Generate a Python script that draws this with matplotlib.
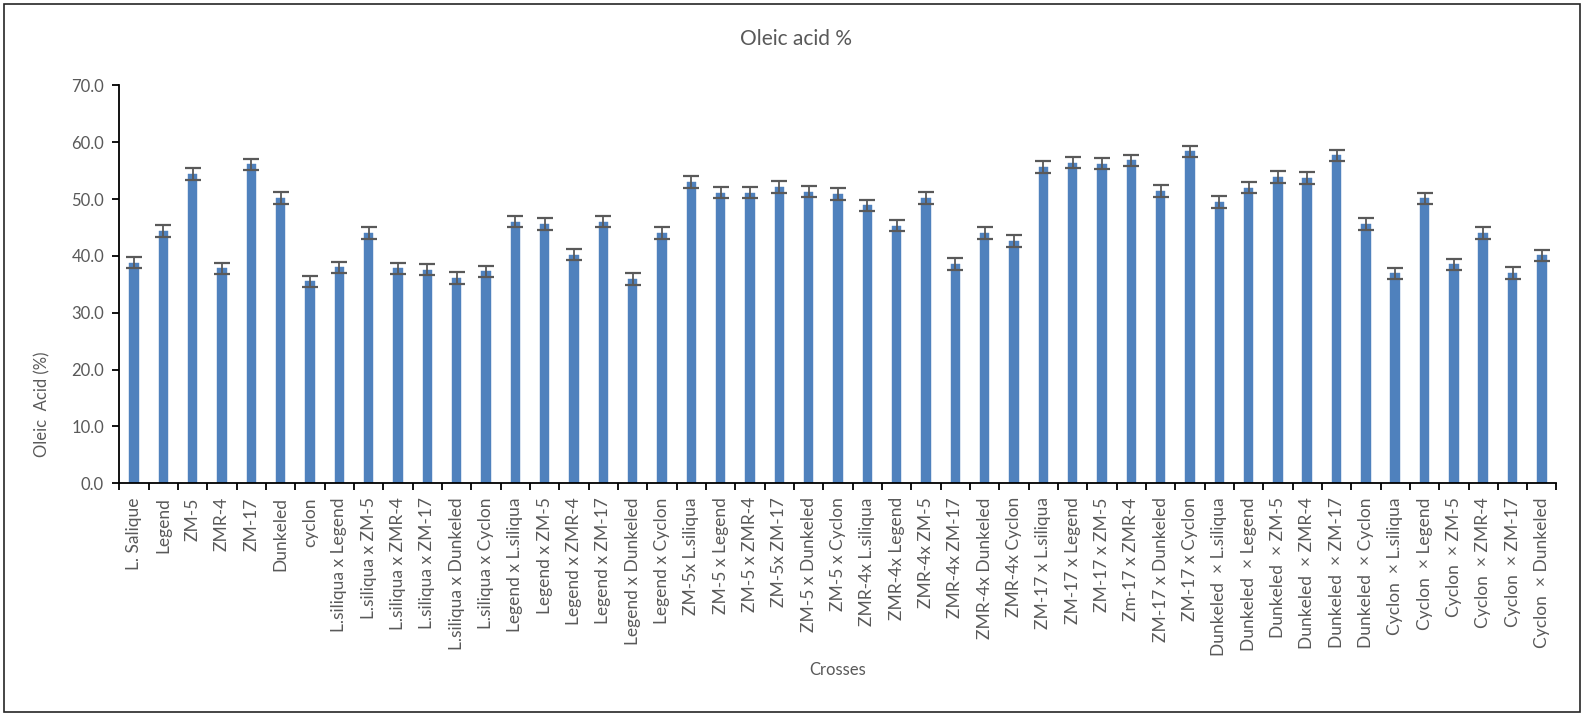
import matplotlib
matplotlib.use("Agg")
import matplotlib.pyplot as plt
from matplotlib.patches import Rectangle

categories = [
    "L. Salique", "Legend", "ZM-5", "ZMR-4", "ZM-17", "Dunkeled", "cyclon",
    "L.siliqua x Legend", "L.siliqua x ZM-5", "L.siliqua x ZMR-4", "L.siliqua x ZM-17",
    "L.siliqua x Dunkeled", "L.siliqua x Cyclon",
    "Legend x L.siliqua", "Legend x ZM-5", "Legend x ZMR-4", "Legend x ZM-17",
    "Legend x Dunkeled", "Legend x Cyclon",
    "ZM-5x L.siliqua", "ZM-5 x Legend", "ZM-5 x ZMR-4", "ZM-5x ZM-17",
    "ZM-5 x Dunkeled", "ZM-5 x Cyclon",
    "ZMR-4x L.siliqua", "ZMR-4x Legend", "ZMR-4x ZM-5", "ZMR-4x ZM-17",
    "ZMR-4x Dunkeled", "ZMR-4x Cyclon",
    "ZM-17 x L.siliqua", "ZM-17 x Legend", "ZM-17 x ZM-5", "Zm-17 x ZMR-4",
    "ZM-17 x Dunkeled", "ZM-17 x Cyclon",
    "Dunkeled  \u00d7 L.siliqua", "Dunkeled  \u00d7 Legend", "Dunkeled  \u00d7 ZM-5",
    "Dunkeled  \u00d7 ZMR-4", "Dunkeled  \u00d7 ZM-17", "Dunkeled  \u00d7 Cyclon",
    "Cyclon  \u00d7 L.siliqua", "Cyclon  \u00d7 Legend", "Cyclon  \u00d7 ZM-5",
    "Cyclon  \u00d7 ZMR-4", "Cyclon  \u00d7 ZM-17", "Cyclon  \u00d7 Dunkeled",
]

oleic = [
    38.8, 44.4, 54.4, 37.8, 56.1, 50.2, 35.5,
    38.0, 44.0, 37.8, 37.6, 36.1, 37.3,
    46.0, 45.6, 40.2, 46.0, 35.9, 44.0,
    53.0, 51.1, 51.1, 52.1, 51.3, 50.9,
    48.9, 45.3, 50.2, 38.6, 44.0, 42.6,
    55.6, 56.4, 56.2, 56.8, 51.4, 58.4,
    49.5, 52.0, 53.9, 53.7, 57.7, 45.6,
    36.9, 50.1, 38.5, 44.0, 37.0, 40.1,
]

err = [
    1.0, 1.0, 1.0, 1.0, 1.0, 1.0, 1.0,
    1.0, 1.0, 1.0, 1.0, 1.0, 1.0,
    1.0, 1.0, 1.0, 1.0, 1.0, 1.0,
    1.0, 1.0, 1.0, 1.0, 1.0, 1.0,
    1.0, 1.0, 1.0, 1.0, 1.0, 1.0,
    1.0, 1.0, 1.0, 1.0, 1.0, 1.0,
    1.0, 1.0, 1.0, 1.0, 1.0, 1.0,
    1.0, 1.0, 1.0, 1.0, 1.0, 1.0,
]

yticks = [0, 10, 20, 30, 40, 50, 60, 70]

plt.rcParams['font.family'] = ['Lato', 'DejaVu Sans']

W, H = 1583, 715
fig = plt.figure(figsize=(W / 100, H / 100), dpi=100)
fig.patch.set_facecolor("white")

# outer chart border
fig.patches.append(Rectangle((4 / W, 3 / H), (1580 - 4) / W, (711 - 3) / H,
                             transform=fig.transFigure, fill=False,
                             edgecolor="#262626", linewidth=1.2))

ax_left = 119.3 / W
ax_right = 1556.5 / W
ax_bottom = 1 - 483.3 / H
ax_top = 1 - 85.3 / H
ax = fig.add_axes([ax_left, ax_bottom, ax_right - ax_left, ax_top - ax_bottom])

x = list(range(len(categories)))
ax.bar(x, oleic, width=0.32, color="#4F81BD", edgecolor="#4F81BD", linewidth=0.3, zorder=2)
ax.errorbar(x, oleic, yerr=err, fmt="none", ecolor="#595959", elinewidth=1.3,
            capsize=5.5, capthick=1.6, zorder=3)

ax.set_xlim(-0.5, len(categories) - 0.5)
ax.set_ylim(0, 70)
ax.set_yticks(yticks)
ax.set_yticklabels([f"{v:.1f}" for v in yticks])

ax.set_xticks(x)
ax.set_xticklabels(categories, rotation=90, ha="center", va="top")
ax.set_xticks([i - 0.5 for i in range(len(categories) + 1)], minor=True)
ax.tick_params(axis="x", which="major", length=0, pad=10, labelsize=12.5, labelcolor="#595959")
ax.tick_params(axis="x", which="minor", length=5, width=1.3, color="black", direction="out")
ax.tick_params(axis="y", which="major", length=5, width=1.3, color="black", direction="out",
               labelsize=12, labelcolor="#595959", pad=6)

for s in ["top", "right"]:
    ax.spines[s].set_visible(False)
for s in ["left", "bottom"]:
    ax.spines[s].set_linewidth(1.3)
    ax.spines[s].set_color("black")

fig.text(795.5 / W, 1 - 39 / H, "Oleic acid %", ha="center", va="center",
         fontsize=15, color="#595959")
fig.text(42 / W, 1 - 404 / H, "Oleic  Acid (%)", ha="center", va="center",
         rotation=90, fontsize=12, color="#595959")
fig.text(838 / W, 1 - 670 / H, "Crosses", ha="center", va="center",
         fontsize=12, color="#595959")

fig.savefig("out.png", dpi=100, facecolor="white")
